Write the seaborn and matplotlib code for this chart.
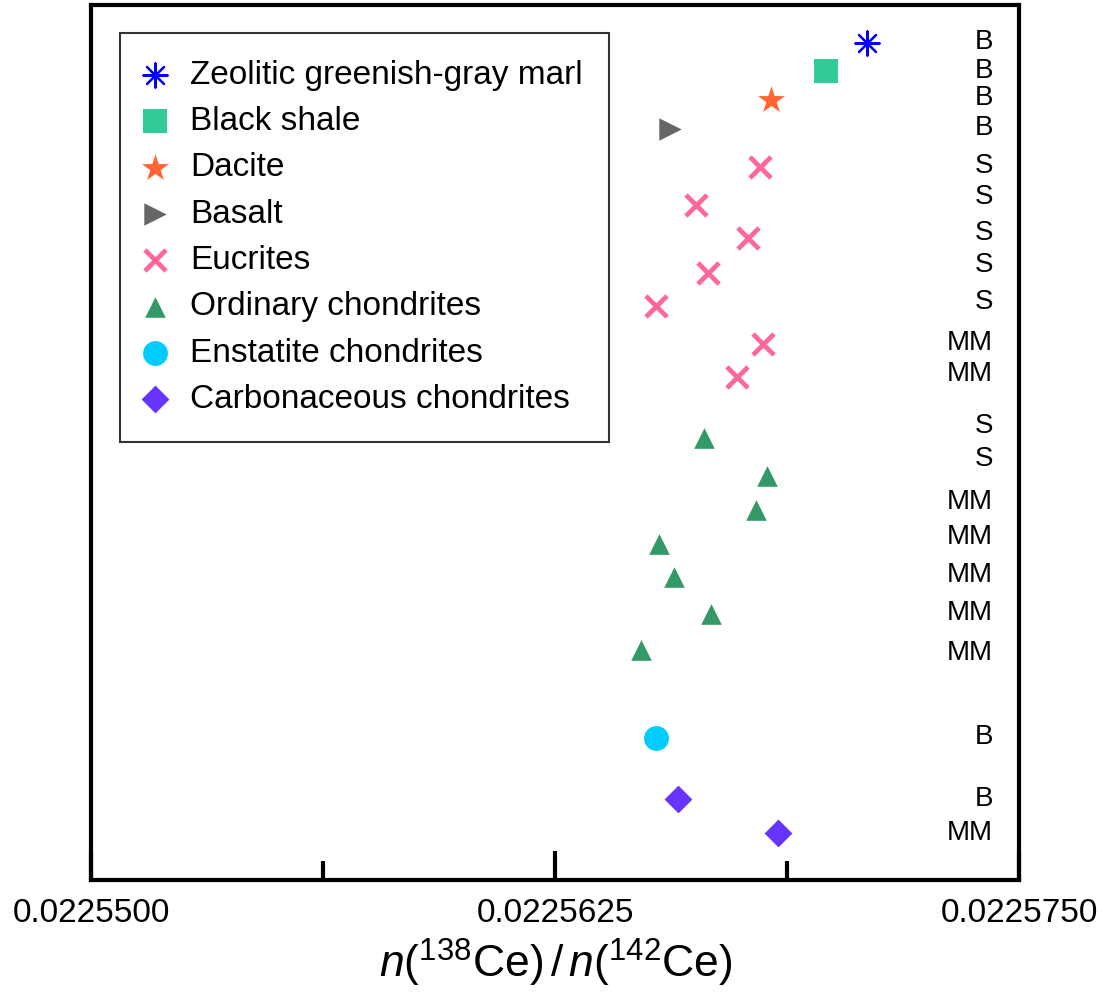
import numpy as np
import pandas as pd
import seaborn as sns
import matplotlib
matplotlib.use('Agg')
import matplotlib.pyplot as plt
from matplotlib.ticker import FixedLocator, FormatStrFormatter
from matplotlib.transforms import blended_transform_factory

#%% Data (x = n(138Ce)/n(142Ce), row = vertical position, 0 at top)
marl_x = [0.0225709]
marl_row = [1.09]
shale_x = [0.0225698]
shale_row = [1.89]
dacite_x = [0.0225683]
dacite_row = [2.71]
basalt_x = [0.0225656]
basalt_row = [3.55]
eucrite_x = [0.0225680, 0.0225663, 0.0225677, 0.0225666, 0.0225652, 0.0225681, 0.0225674]
eucrite_row = [4.63, 5.71, 6.65, 7.65, 8.60, 9.69, 10.64]
ordinary_x = [0.0225665, 0.0225682, 0.0225679, 0.0225653, 0.0225657, 0.0225667, 0.0225648]
ordinary_row = [12.38, 13.46, 14.43, 15.41, 16.33, 17.41, 18.43]
enstatite_x = [0.0225652]
enstatite_row = [20.93]
carbon_x = [0.0225658, 0.0225685]
carbon_row = [22.69, 23.67]

method_labels = ['B', 'B', 'B', 'B', 'S', 'S', 'S', 'S', 'S', 'MM', 'MM',
                 'S', 'S', 'MM', 'MM', 'MM', 'MM', 'MM', 'B', 'B', 'MM']
method_rows = [1.05, 1.89, 2.65, 3.51, 4.60, 5.48, 6.51, 7.43, 8.48, 9.67, 10.55,
               12.03, 12.98, 14.19, 15.21, 16.29, 17.38, 18.52, 20.91, 22.69, 23.67]

xticks_major = [0.0225500, 0.0225625, 0.0225750]
xticks_minor = [0.02255625, 0.02256875]

# name, x, row, marker, colour, size, linewidth
groups = [
    ('Zeolitic greenish-gray marl', marl_x, marl_row, (8, 2, 0), '#0000FF', 300, 1.6),
    ('Black shale', shale_x, shale_row, 's', '#33CC99', 300, 0),
    ('Dacite', dacite_x, dacite_row, '*', '#FF6633', 420, 0),
    ('Basalt', basalt_x, basalt_row, '>', '#666666', 260, 0),
    ('Eucrites', eucrite_x, eucrite_row, 'x', '#FF6699', 230, 3.4),
    ('Ordinary chondrites', ordinary_x, ordinary_row, '^', '#339966', 220, 0),
    ('Enstatite chondrites', enstatite_x, enstatite_row, 'o', '#00CCFF', 320, 0),
    ('Carbonaceous chondrites', carbon_x, carbon_row, 'D', '#6633FF', 200, 0),
]

#%% Style
sns.set_theme(style='white')
plt.rcParams['font.family'] = ['Liberation Sans', 'DejaVu Sans']
plt.rcParams['text.color'] = 'black'
plt.rcParams['xtick.color'] = 'black'
plt.rcParams['axes.labelcolor'] = 'black'
plt.rcParams['mathtext.fontset'] = 'custom'
plt.rcParams['mathtext.rm'] = 'Liberation Sans'
plt.rcParams['mathtext.it'] = 'Liberation Sans:italic'

fig = plt.figure(figsize=(11.02, 9.93), dpi=100)
ax = fig.add_axes([0.083, 0.1138, 0.842, 0.8812])

for name, xs, rows, marker, color, size, lw in groups:
    df = pd.DataFrame({'x': xs, 'row': rows})
    sns.scatterplot(data=df, x='x', y='row', marker=marker, color=color,
                    edgecolor=color, s=size, linewidth=lw, label=name, ax=ax, zorder=3)

# measurement method labels on the right
trans = blended_transform_factory(ax.transAxes, ax.transData)
for lab, row in zip(method_labels, method_rows):
    ax.text(0.9714, row, lab, transform=trans, ha='right', va='center',
            fontsize=20, color='black')

ax.set_xlim(0.02255, 0.022575)
ax.set_ylim(25, 0)
ax.xaxis.set_major_locator(FixedLocator(xticks_major))
ax.xaxis.set_minor_locator(FixedLocator(xticks_minor))
ax.xaxis.set_major_formatter(FormatStrFormatter('%.7f'))
ax.tick_params(axis='x', which='major', direction='in', length=21, width=3,
               labelsize=24, pad=13, color='black', labelcolor='black', bottom=True)
ax.tick_params(axis='x', which='minor', direction='in', length=14, width=3,
               color='black', bottom=True)
ax.set_yticks([])
ax.set_ylabel('')
ax.set_xlabel(r'$\mathit{n}(^{138}\mathrm{Ce})\,/\,\mathit{n}(^{142}\mathrm{Ce})$',
              fontsize=32, labelpad=6, color='black')
for sp in ax.spines.values():
    sp.set_linewidth(3)
    sp.set_color('black')

leg = ax.legend(loc='upper left', bbox_to_anchor=(0.0307, 0.968), borderaxespad=0,
                fontsize=24, frameon=True, fancybox=False, edgecolor='black',
                labelspacing=0.46, handletextpad=0.8, borderpad=0.8, handlelength=0.5)
leg.get_frame().set_linewidth(1.5)
for t in leg.get_texts():
    t.set_color('black')

fig.savefig('out.png', dpi=100)
